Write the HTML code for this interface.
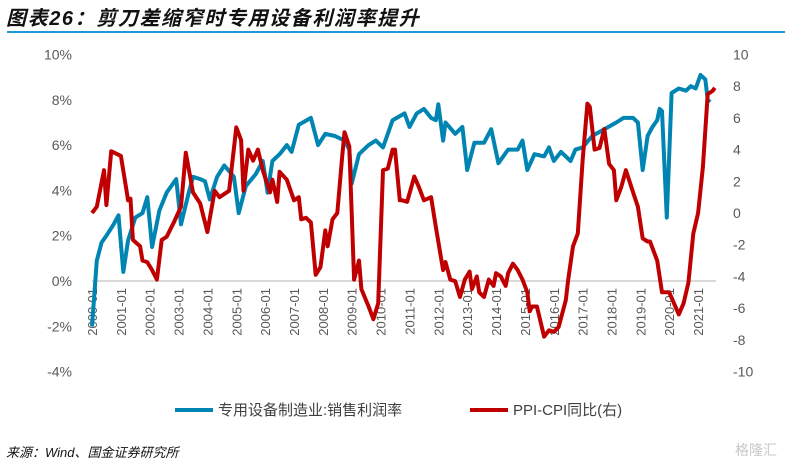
<!DOCTYPE html>
<html><head><meta charset="utf-8"><style>
body{margin:0;background:#fff;width:791px;height:465px;overflow:hidden;font-family:"Liberation Sans","Noto Sans CJK SC",sans-serif}
</style></head><body>
<svg width="791" height="465" viewBox="0 0 791 465" xmlns="http://www.w3.org/2000/svg">
<text x="6" y="25" font-size="20" font-weight="bold" font-style="italic" letter-spacing="1.6" fill="#111" font-family="'Liberation Sans','Noto Sans CJK SC',sans-serif">图表26：剪刀差缩窄时专用设备利润率提升</text>
<line x1="7" y1="32" x2="785" y2="32" stroke="#1a9ad6" stroke-width="2"/>
<g id="axes"></g>
<g id="series"></g>
<g>
<line x1="175" y1="410" x2="213" y2="410" stroke="#0085b3" stroke-width="4"/>
<text x="218" y="415" font-size="15" fill="#404040">专用设备制造业:销售利润率</text>
<line x1="470" y1="410" x2="508" y2="410" stroke="#c00000" stroke-width="4"/>
<text x="513" y="415" font-size="15" fill="#404040">PPI-CPI同比(右)</text>
</g>
<text x="6" y="457" font-size="13" font-style="italic" fill="#111">来源：Wind、国金证券研究所</text>
<text x="735" y="455" font-size="14" fill="#c8c8c8">格隆汇</text>
</svg>
<script>
const xLabels=["2000-01","2001-01","2002-01","2003-01","2004-01","2005-01","2006-01","2007-01","2008-01","2009-01","2010-01","2011-01","2012-01","2013-01","2014-01","2015-01","2016-01","2017-01","2018-01","2019-01","2020-01","2021-01"];
const leftTicks=[10,8,6,4,2,0,-2,-4];
const rightTicks=[10,8,6,4,2,0,-2,-4,-6,-8,-10];
const marginMonths=[0,2,4,6,9,11,13,15,18,21,23,25,28,31,35,37,40,42,45,47,49,52,55,59,61,64,68,71,73,75,78,81,83,86,91,94,97,101,105,107,108,111,115,118,121,125,130,132,135,138,141,143,144,146,147,151,154,156,159,163,166,169,173,177,179,181,184,188,190,192,195,199,201,204,208,213,218,221,225,227,229,231,233,235,236,237,239,241,244,247,249,251,253,255,256,257,259];
const marginValues=[-2.0,0.9,1.7,2.0,2.5,2.9,0.4,1.8,2.8,3.0,3.7,1.5,3.1,3.9,4.5,2.5,3.8,4.6,4.5,4.4,3.6,4.6,5.1,4.6,3.0,4.2,4.7,5.3,3.9,5.3,5.6,6.0,5.7,6.9,7.2,6.0,6.5,6.4,6.2,5.8,4.3,5.6,6.0,6.2,5.9,7.1,7.4,6.8,7.4,7.6,7.2,7.1,7.8,6.2,7.0,6.5,6.8,4.9,6.1,6.1,6.7,5.2,5.8,5.8,6.2,4.9,5.6,5.5,5.9,5.3,5.7,5.3,5.8,5.9,6.4,6.7,7.0,7.2,7.2,7.0,4.9,6.4,6.8,7.1,7.6,7.5,2.8,8.3,8.5,8.4,8.6,8.5,9.1,8.9,8.0,7.9];
const spreadMonths=[0,2,5,6,8,12,15,16,17,20,21,23,25,27,29,31,34,37,39,42,45,47,48,51,53,57,60,62,63,65,67,69,71,74,75,77,78,81,84,86,87,89,91,93,95,97,98,100,102,104,105,107,109,111,112,115,117,119,121,123,125,126,128,129,131,134,136,138,141,143,146,147,149,151,153,155,157,158,160,161,163,165,167,168,170,172,173,175,177,179,181,182,183,185,188,190,192,194,197,198,200,202,204,206,207,209,211,213,215,217,218,220,222,225,227,229,231,232,235,237,240,242,244,246,248,250,252,254,256,258,259];
const spreadValues=[0,0.4,2.7,0.5,3.9,3.6,0.8,0.9,-1.7,-2.1,-3.0,-3.1,-3.6,-4.2,-1.7,-1.5,-0.6,0.4,3.8,1.3,0.6,-0.6,-1.2,1.4,1.0,1.4,5.4,4.6,1.4,4.0,3.3,4.0,2.7,1.3,2.1,0.7,2.6,2.1,0.8,1.0,-0.4,-0.3,-0.6,-3.9,-3.4,-1.1,-2.1,-0.4,0,3.5,5.1,4.2,-4.2,-3.0,-4.8,-5.9,-6.7,-5.7,2.7,2.8,4.0,4.0,0.8,0.8,0.7,2.3,1.6,0.8,1.0,-0.9,-3.6,-3.1,-4.2,-4.3,-5.3,-4.2,-3.7,-4.8,-4.0,-5.0,-5.3,-4.2,-4.6,-3.8,-4.0,-4.6,-3.8,-3.2,-3.6,-4.2,-5.0,-6.2,-5.9,-5.9,-7.8,-7.4,-7.5,-7.2,-5.5,-4.2,-2.1,-1.3,3.3,6.9,6.7,4.0,4.1,5.3,3.1,2.7,0.8,1.6,2.7,1.3,0.4,-1.6,-1.8,-1.8,-3.0,-5.0,-5.0,-5.7,-6.4,-5.7,-4.4,-1.3,0,2.9,7.5,7.7,7.9];

const NS="http://www.w3.org/2000/svg";
const x=m=>92+m*2.405;
const yL=v=>281-v*22.65;
const yR=v=>213-v*15.85;
const axes=document.getElementById('axes'), ser=document.getElementById('series');
function mk(t,a,p){const e=document.createElementNS(NS,t);for(const k in a)e.setAttribute(k,a[k]);p.appendChild(e);return e;}
const zl=mk('line',{x1:92,x2:716,y1:yL(0),y2:yL(0),stroke:'#d9d9d9','stroke-width':2},axes);


leftTicks.forEach(v=>{const t=mk('text',{x:72,y:yL(v)+5,'text-anchor':'end','font-size':14,fill:'#595959'},axes);t.textContent=v+'%';

});
rightTicks.forEach(v=>{const t=mk('text',{x:733,y:yR(v)+5,'font-size':14,fill:'#595959'},axes);t.textContent=v;

});
xLabels.forEach((s,i)=>{const px=x(i*12)+5;const t=mk('text',{x:0,y:0,transform:`translate(${px},288) rotate(-90)`,'text-anchor':'end','font-size':13,fill:'#595959'},axes);t.textContent=s;

});
function path(ms,vs,yf){return ms.map((m,i)=>(i?'L':'M')+x(m).toFixed(1)+','+yf(vs[i]).toFixed(1)).join('');}
const pb=mk('path',{d:path(marginMonths,marginValues,yL),fill:'none',stroke:'#0085b3','stroke-width':4,'stroke-linejoin':'round'},ser);


const pr=mk('path',{d:path(spreadMonths,spreadValues,yR),fill:'none',stroke:'#c00000','stroke-width':4,'stroke-linejoin':'round'},ser);


</script>
</body></html>
